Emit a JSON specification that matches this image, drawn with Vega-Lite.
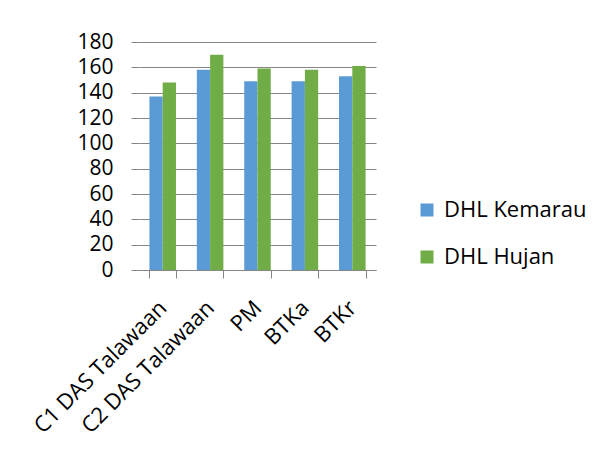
{
  "$schema": "https://vega.github.io/schema/vega-lite/v6.json",
  "width": 237,
  "height": 228,
  "autosize": {"type": "none"},
  "padding": {"left": 139, "top": 42, "right": 234, "bottom": 182},
  "background": "white",
  "data": {
    "values": [
      {"lokasi": "C1 DAS Talawaan", "seri": "DHL Kemarau", "nilai": 137},
      {"lokasi": "C1 DAS Talawaan", "seri": "DHL Hujan", "nilai": 148},
      {"lokasi": "C2 DAS Talawaan", "seri": "DHL Kemarau", "nilai": 158},
      {"lokasi": "C2 DAS Talawaan", "seri": "DHL Hujan", "nilai": 170},
      {"lokasi": "PM", "seri": "DHL Kemarau", "nilai": 149},
      {"lokasi": "PM", "seri": "DHL Hujan", "nilai": 159},
      {"lokasi": "BTKa", "seri": "DHL Kemarau", "nilai": 149},
      {"lokasi": "BTKa", "seri": "DHL Hujan", "nilai": 158},
      {"lokasi": "BTKr", "seri": "DHL Kemarau", "nilai": 153},
      {"lokasi": "BTKr", "seri": "DHL Hujan", "nilai": 161}
    ]
  },
  "mark": {"type": "bar"},
  "encoding": {
    "x": {
      "field": "lokasi",
      "type": "nominal",
      "sort": null,
      "scale": {"paddingInner": 0.44, "paddingOuter": 0.22},
      "axis": {
        "title": null,
        "labelAngle": -45,
        "labelAlign": "right",
        "labelBaseline": "middle",
        "labelFontSize": 22,
        "labelFont": "Open Sans",
        "labelColor": "#000000",
        "labelPadding": 26,
        "tickBand": "extent",
        "tickSize": 8,
        "tickColor": "#868686",
        "domainColor": "#868686",
        "labelLimit": 300
      }
    },
    "xOffset": {
      "field": "seri",
      "type": "nominal",
      "sort": ["DHL Kemarau", "DHL Hujan"],
      "scale": {"paddingInner": 0, "paddingOuter": 0}
    },
    "y": {
      "field": "nilai",
      "type": "quantitative",
      "scale": {"domain": [0, 180], "nice": false},
      "axis": {
        "title": null,
        "values": [0, 20, 40, 60, 80, 100, 120, 140, 160, 180],
        "domain": false,
        "tickSize": 8,
        "tickColor": "#868686",
        "gridColor": "#868686",
        "labelFontSize": 21,
        "labelFont": "Open Sans",
        "labelColor": "#000000",
        "labelPadding": 18
      }
    },
    "color": {
      "field": "seri",
      "type": "nominal",
      "sort": ["DHL Kemarau", "DHL Hujan"],
      "scale": {"domain": ["DHL Kemarau", "DHL Hujan"], "range": ["#5B9BD5", "#70AD47"]},
      "legend": {
        "title": null,
        "orient": "none",
        "legendX": 277,
        "legendY": 157,
        "symbolType": "square",
        "symbolSize": 169,
        "symbolStrokeWidth": 0,
        "labelFontSize": 22,
        "labelFont": "Open Sans",
        "labelColor": "#000000",
        "labelOffset": 6,
        "rowPadding": 25
      }
    }
  },
  "config": {
    "view": {"stroke": null},
    "axis": {"gridWidth": 1}
  }
}
